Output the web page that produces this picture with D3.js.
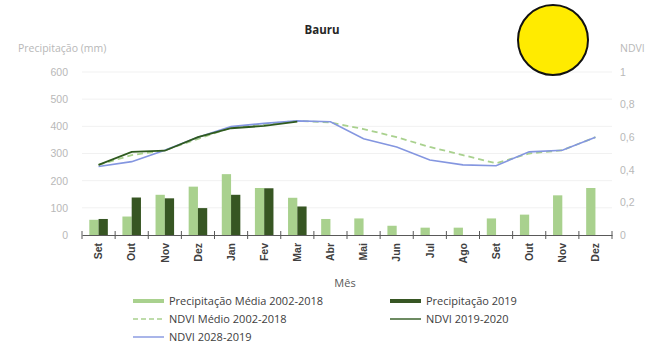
<!DOCTYPE html>
<html>
<head>
<meta charset="utf-8">
<script src="https://cdn.jsdelivr.net/npm/d3@7"></script>
<style>
  html, body { margin: 0; padding: 0; background: #fff; }
  svg { display: block; font-family: "Open Sans", "Liberation Sans", sans-serif; }
</style>
</head>
<body>
<svg id="chart" width="653" height="350"></svg>
<script>
// Months from Sep 2019 back through Dec of the following year
const months = ["Set","Out","Nov","Dez","Jan","Fev","Mar","Abr","Mai","Jun","Jul","Ago","Set","Out","Nov","Dez"];

// Precipitation (mm)
const precipMedia = [56, 68, 148, 178, 224, 173, 137, 59, 61, 34, 27, 27, 61, 75, 146, 173];
const precip2019  = [59, 138, 135, 99, 148, 172, 105, null, null, null, null, null, null, null, null, null];

// NDVI series
const ndviMedio = [0.43, 0.49, 0.52, 0.59, 0.66, 0.68, 0.70, 0.69, 0.65, 0.60, 0.54, 0.49, 0.44, 0.50, 0.52, 0.60];
const ndvi1920  = [0.43, 0.51, 0.517, 0.60, 0.655, 0.669, 0.695, null, null, null, null, null, null, null, null, null];
const ndvi1819  = [0.42, 0.45, 0.52, 0.60, 0.665, 0.685, 0.70, 0.695, 0.59, 0.54, 0.46, 0.43, 0.425, 0.51, 0.52, 0.60];

const leftTicks  = [0, 100, 200, 300, 400, 500, 600];
const rightTicks = [0, 0.2, 0.4, 0.6, 0.8, 1];

const svg = d3.select("#chart");
const plotL = 82, plotR = 612, plotT = 72, plotB = 235;

const x = d3.scaleBand().domain(d3.range(months.length)).range([plotL, plotR]).padding(0);
const yP = d3.scaleLinear().domain([0, 600]).range([plotB, plotT]);
const yN = d3.scaleLinear().domain([0, 1]).range([plotB, plotT]);

const tickColor = "#b8b8b8";

// horizontal gridlines
svg.append("g").selectAll("line").data(leftTicks.slice(1)).join("line")
  .attr("x1", plotL).attr("x2", plotR)
  .attr("y1", d => yP(d)).attr("y2", d => yP(d))
  .attr("stroke", "#f1f1f1").attr("stroke-width", 1);

// left axis
const axL = svg.append("g").attr("transform", `translate(${plotL - 8},0)`)
  .call(d3.axisLeft(yP).tickValues(leftTicks).tickSize(0).tickPadding(6));
axL.select(".domain").remove();
axL.selectAll("text").attr("fill", tickColor).attr("font-size", 10.5);

// right axis
const axR = svg.append("g").attr("transform", `translate(${plotR + 8},0)`)
  .call(d3.axisRight(yN).tickValues(rightTicks).tickSize(0).tickPadding(0)
    .tickFormat(d => d === 0 || d === 1 ? d3.format("d")(d) : d3.format(".1f")(d).replace(".", ",")));
axR.select(".domain").remove();
axR.selectAll("text").attr("fill", tickColor).attr("font-size", 10.5);

// bars
const bw = x.bandwidth() * 0.28;
const cx = i => x(i) + x.bandwidth() / 2;
svg.append("g").selectAll("rect").data(precipMedia).join("rect")
  .attr("x", (d, i) => cx(i) - bw).attr("width", bw)
  .attr("y", d => yP(d)).attr("height", d => plotB - yP(d))
  .attr("fill", "#a9d18e");
svg.append("g").selectAll("rect").data(precip2019.map((v, i) => ({v, i})).filter(d => d.v != null)).join("rect")
  .attr("x", d => cx(d.i)).attr("width", bw)
  .attr("y", d => yP(d.v)).attr("height", d => plotB - yP(d.v))
  .attr("fill", "#375623");

// x axis
const axB = svg.append("g").attr("transform", `translate(0,${plotB})`)
  .call(d3.axisBottom(x).tickSize(0).tickFormat(i => months[i]));
axB.select(".domain").attr("stroke", "#595959").attr("stroke-width", 1.2);
axB.selectAll("text")
  .attr("transform", "rotate(-90)")
  .attr("text-anchor", "end")
  .attr("x", -8).attr("y", 0).attr("dy", "0.35em")
  .attr("fill", "#404040").attr("font-size", 10.5).attr("font-weight", 600);
const boundaries = d3.range(months.length + 1).map(i => plotL + i * x.step());
svg.append("g").selectAll("line").data(boundaries).join("line")
  .attr("x1", d => d).attr("x2", d => d)
  .attr("y1", plotB - 4).attr("y2", plotB + 4)
  .attr("stroke", "#595959").attr("stroke-width", 1);

// NDVI lines
const lineGen = d3.line().defined(d => d != null).x((d, i) => cx(i)).y(d => yN(d));
svg.append("path").datum(ndviMedio).attr("d", lineGen)
  .attr("fill", "none").attr("stroke", "#a9d18e").attr("stroke-width", 1.8).attr("stroke-dasharray", "6,4");
svg.append("path").datum(ndvi1819).attr("d", lineGen)
  .attr("fill", "none").attr("stroke", "#8496e0").attr("stroke-width", 1.6);
svg.append("path").datum(ndvi1920).attr("d", lineGen)
  .attr("fill", "none").attr("stroke", "#2f5a1f").attr("stroke-width", 1.8);

// titles
svg.append("text").attr("x", 322).attr("y", 34).attr("text-anchor", "middle")
  .attr("font-weight", "bold").attr("font-size", 11.5).attr("fill", "#262626").text("Bauru");
svg.append("text").attr("x", 18).attr("y", 52).attr("font-size", 10.5).attr("fill", tickColor).text("Precipitação (mm)");
svg.append("text").attr("x", 620).attr("y", 52).attr("font-size", 10.5).attr("fill", tickColor).text("NDVI");
svg.append("text").attr("x", 345).attr("y", 287).attr("text-anchor", "middle")
  .attr("font-size", 11).attr("fill", "#595959").text("Mês");

// legend
const legend = [
  {label: "Precipitação Média 2002-2018", type: "bar", color: "#a9d18e", x: 133, y: 301},
  {label: "Precipitação 2019", type: "bar", color: "#375623", x: 390, y: 301},
  {label: "NDVI Médio 2002-2018", type: "dash", color: "#a9d18e", x: 133, y: 319},
  {label: "NDVI 2019-2020", type: "line", color: "#2f5a1f", x: 390, y: 319},
  {label: "NDVI 2028-2019", type: "line", color: "#8496e0", x: 133, y: 337}
];
const lg = svg.append("g").selectAll("g").data(legend).join("g")
  .attr("transform", d => `translate(${d.x},${d.y})`);
lg.filter(d => d.type === "bar").append("rect")
  .attr("x", 0).attr("y", -2).attr("width", 31).attr("height", 4).attr("fill", d => d.color);
lg.filter(d => d.type !== "bar").append("line")
  .attr("x1", 0).attr("x2", 31).attr("y1", 0).attr("y2", 0)
  .attr("stroke", d => d.color).attr("stroke-width", 1.4)
  .attr("stroke-dasharray", d => d.type === "dash" ? "5,3" : null);
lg.append("text").attr("x", 36).attr("y", 0).attr("dy", "0.35em")
  .attr("font-size", 11).attr("fill", "#404040").text(d => d.label);

// yellow marker
svg.append("circle").attr("cx", 553).attr("cy", 40).attr("r", 35)
  .attr("fill", "#ffeb00").attr("stroke", "#111").attr("stroke-width", 2);
</script>
</body>
</html>
